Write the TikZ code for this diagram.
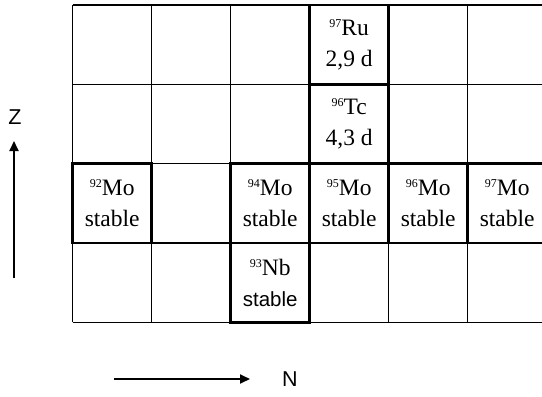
\documentclass[tikz,border=0pt]{standalone}
\usepackage{fontspec}
\setmainfont{Liberation Serif}
\newfontfamily\arial{Liberation Sans}
\usetikzlibrary{arrows.meta}
\tikzset{
 gridline/.style={line width=1.3pt},
 nuclide/.style={draw, line width=2.6pt, minimum width=79pt, minimum height=79.3pt, inner sep=0pt, align=center, font=\fontsize{23.5}{31}\selectfont},
 axis/.style={line width=1.8pt, -{Triangle[length=10pt,width=9pt]}},
 axislabel/.style={font=\arial\fontsize{21.5}{21.5}\selectfont}
}
\newcommand{\iso}[1]{\raisebox{7.5pt}{\fontsize{12}{12}\selectfont #1}}
\begin{document}
\begin{tikzpicture}[x=1pt,y=-1pt]
\useasboundingbox (0,0) rectangle (542,397);
\foreach \y in {5,84.3,163.6,242.9,322.2} \draw[gridline] (72.7,\y) -- (546.7,\y);
\foreach \x in {72.7,151.7,230.7,309.7,388.7,467.7,546.7} \draw[gridline] (\x,5) -- (\x,322.2);
\node[nuclide] (ru97) at (349.2,44.65) {\iso{97}Ru\\2,9 d};
\node[nuclide] (tc96) at (349.2,123.95) {\iso{96}Tc\\4,3 d};
\node[nuclide] (mo92) at (112.2,203.25) {\iso{92}Mo\\stable};
\node[nuclide] (mo94) at (270.2,203.25) {\iso{94}Mo\\stable};
\node[nuclide] (mo95) at (349.2,203.25) {\iso{95}Mo\\stable};
\node[nuclide] (mo96) at (428.2,203.25) {\iso{96}Mo\\stable};
\node[nuclide] (mo97) at (507.2,203.25) {\iso{97}Mo\\stable};
\node[nuclide] (nb93) at (270.2,282.55) {\iso{93}Nb\\{\arial\fontsize{20.5}{31}\selectfont stable}};
\coordinate (zs) at (14,278);
\coordinate (ze) at (14,141);
\draw[axis] (zs) -- (ze);
\node[axislabel] (zlab) at (15,117) {Z};
\coordinate (ns) at (114,379);
\coordinate (ne) at (250,379);
\draw[axis] (ns) -- (ne);
\node[axislabel] (nlab) at (290,379) {N};
\end{tikzpicture}
\end{document}
